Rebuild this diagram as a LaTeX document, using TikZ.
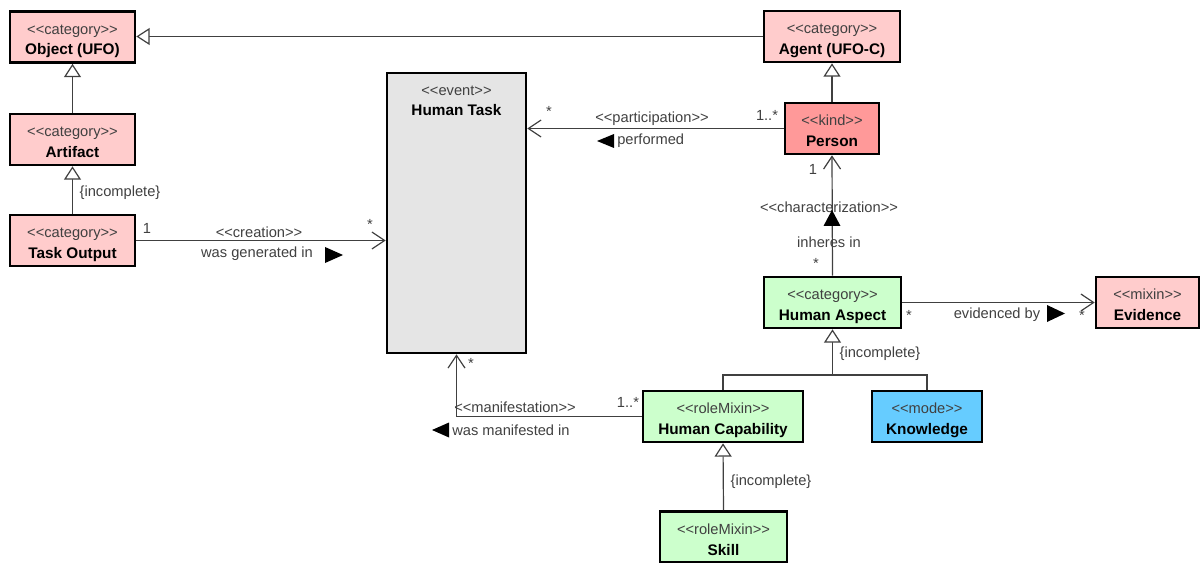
\documentclass[tikz,border=0pt]{standalone}
\usepackage{fontspec}
\setmainfont{Liberation Sans}
\usetikzlibrary{arrows.meta}
\definecolor{catpink}{HTML}{FFCCCC}
\definecolor{kindred}{HTML}{FF9999}
\definecolor{mixgreen}{HTML}{CCFFCC}
\definecolor{modeblue}{HTML}{66CCFF}
\definecolor{eventgray}{HTML}{E5E5E5}
\definecolor{ink}{HTML}{404040}
% stereotype line (kerns keep << and >> from turning into guillemets)
\newcommand\stereo[1]{{\color{ink}<\kern0pt<#1>\kern0pt>}}
\newcommand\cname[1]{{\fontsize{11.5}{15.5}\selectfont\bfseries #1}}
\tikzset{
  classbox/.style={draw=black, line width=2pt, inner sep=0pt, minimum height=38.25pt,
    align=center, text height=29pt, text depth=2pt, font=\fontsize{11}{15.5}\selectfont},
  lbl/.style={inner sep=0pt, text=ink, font=\fontsize{11}{13}\selectfont},
  conn/.style={draw=ink, line width=0.9pt},
  gen/.style={conn, -{Triangle[length=10pt, width=12.75pt, fill=white, line width=0.9pt]}},
  assoc/.style={conn, -{Straight Barb[length=9.5pt, width=12.75pt, line width=0.9pt]}},
  dirmark/.style={fill=black, draw=none}
}
\begin{document}
\begin{tikzpicture}[x=0.75pt, y=-0.75pt]
\useasboundingbox (0,0) rectangle (1200,563);

% classes
\node[classbox, fill=catpink, minimum width=93.75pt] (obj) at (72.5,37) {\stereo{category}\\\cname{Object (UFO)}};
\node[classbox, fill=catpink, minimum width=93.75pt] (art) at (72.5,139.5) {\stereo{category}\\\cname{Artifact}};
\node[classbox, fill=catpink, minimum width=93.75pt] (tout) at (72.5,240.5) {\stereo{category}\\\cname{Task Output}};
\node[classbox, fill=eventgray, minimum width=104.25pt, minimum height=210pt, text height=0pt, text depth=0pt] (task) at (456.5,213) {};
\node[inner sep=0pt, anchor=north, align=center, font=\fontsize{11}{15.5}\selectfont] (tasktext) at (456.5,85.5) {\stereo{event}\\\cname{Human Task}};
\node[classbox, fill=catpink, minimum width=102pt] (agent) at (832,36.5) {\stereo{category}\\\cname{Agent (UFO-C)}};
\node[classbox, fill=kindred, minimum width=70.5pt] (person) at (832,128.5) {\stereo{kind}\\\cname{Person}};
\node[classbox, fill=mixgreen, minimum width=102.75pt] (aspect) at (832.5,302.5) {\stereo{category}\\\cname{Human Aspect}};
\node[classbox, fill=catpink, minimum width=77.25pt] (evid) at (1147.5,302.5) {\stereo{mixin}\\\cname{Evidence}};
\node[classbox, fill=modeblue, minimum width=82.5pt] (know) at (927,416.5) {\stereo{mode}\\\cname{Knowledge}};
\node[classbox, fill=mixgreen, minimum width=120pt] (hcap) at (723,416.5) {\stereo{roleMixin}\\\cname{Human Capability}};
\node[classbox, fill=mixgreen, minimum width=95.25pt] (skill) at (723.5,537) {\stereo{roleMixin}\\\cname{Skill}};

% generalizations
\draw[gen] (agent.west) -- (agent.west -| obj.east);
\draw[gen] (art.north) -- (obj.south);
\draw[gen] (tout.north) -- (art.south);
\draw[gen] (person.north) -- (agent.south);
\coordinate (fork) at (832.5,375);
\draw[gen] (fork) -- (aspect.south);
\draw[conn] (hcap.north) |- (fork);
\draw[conn] (know.north) |- (fork);
\draw[gen] (skill.north) -- (hcap.south);

% associations
\draw[assoc] (tout.east) -- (tout.east -| task.west);
\draw[assoc] (person.west) -- (person.west -| task.east);
\draw[assoc] (aspect.north) -- (person.south);
\draw[assoc] (aspect.east) -- (evid.west);
\draw[assoc] (hcap.west) -| (task.south);

% labels: creation
\node[lbl] (c1) at (147,228) {1};
\node[lbl] (cs) at (370,224) {*};
\node[lbl] (cst) at (259,232) {\stereo{creation}};
\node[lbl] (cname) at (257,254) {was generated in};
\fill[dirmark] (325,247) -- (343,255) -- (325,263) -- cycle;

% labels: participation
\node[lbl] (ps) at (549,111) {*};
\node[lbl] (pst) at (652,119) {\stereo{participation}};
\node[lbl, anchor=west] (pname) at (617,141) {performed};
\fill[dirmark] (614,134) -- (597,141) -- (614,148) -- cycle;
\node[lbl] (pm) at (767,115) {1..*};

% labels: characterization
\node[lbl] (ch1) at (813,169) {1};
\node[lbl] (chst) at (829,207) {\stereo{characterization}};
\fill[dirmark] (823.5,226) -- (832,210) -- (840.5,226) -- cycle;
\node[lbl] (chname) at (829,242) {inheres in};
\node[lbl] (chs) at (816,263) {*};

% labels: evidence
\node[lbl] (es1) at (909,315) {*};
\node[lbl] (ename) at (997,315) {evidenced by};
\fill[dirmark] (1047,305) -- (1065,313.5) -- (1047,322) -- cycle;
\node[lbl] (es2) at (1082,315) {*};

% labels: manifestation
\node[lbl] (ms) at (471,363) {*};
\node[lbl] (mst) at (515,407) {\stereo{manifestation}};
\node[lbl] (mm) at (628,402) {1..*};
\node[lbl, anchor=west] (mname) at (452,430) {was manifested in};
\fill[dirmark] (449,422.5) -- (432,430) -- (449,437.5) -- cycle;

% generalization sets
\node[lbl] (inc1) at (120,193) {\{incomplete\}};
\node[lbl] (inc2) at (880,354) {\{incomplete\}};
\node[lbl] (inc3) at (771,482) {\{incomplete\}};
\end{tikzpicture}
\end{document}
